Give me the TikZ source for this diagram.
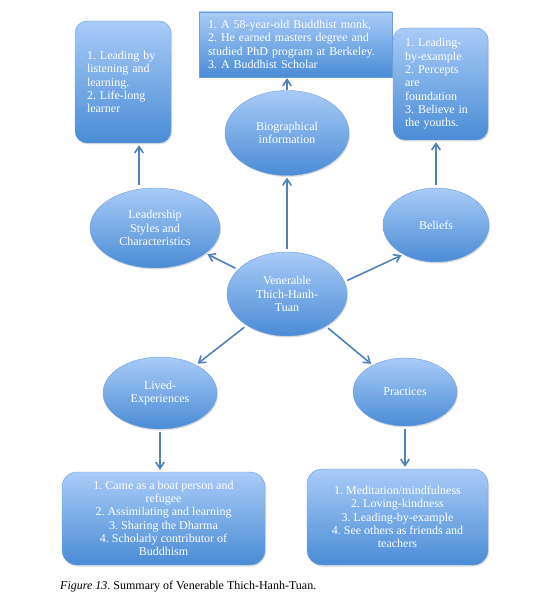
\documentclass[tikz,border=0pt]{standalone}
\usepackage{fontspec}
\setmainfont{Liberation Serif}
\usetikzlibrary{arrows.meta,shapes.geometric,shadows}
\definecolor{MapBlueTop}{HTML}{A9CBF7}
\definecolor{MapBlueBottom}{HTML}{4A8CD6}
\definecolor{MapEdge}{HTML}{6E9FD8}
\definecolor{MapArrow}{HTML}{4F81BD}
\frenchspacing

\begin{document}
\begin{tikzpicture}[
  x=1pt,y=-1pt,
  every node/.style={font=\fontsize{12}{13.3}\selectfont,text=white},
  bubble/.style={ellipse,draw=MapEdge,top color=MapBlueTop,bottom color=MapBlueBottom,
                 align=center,inner sep=0pt,
                 drop shadow={opacity=0.25,shadow xshift=1pt,shadow yshift=-1.5pt}},
  card/.style={rounded corners=12pt,draw=MapEdge,top color=MapBlueTop,bottom color=MapBlueBottom,
               inner sep=0pt,
               drop shadow={opacity=0.25,shadow xshift=1pt,shadow yshift=-1.5pt}},
  arrow/.style={-{Straight Barb[length=2.2mm,width=3mm]},line width=1.6pt,color=MapArrow,
                shorten >=2pt,shorten <=3pt}
]
  \useasboundingbox (0,0) rectangle (550,601);

  % ellipses
  \node[bubble,minimum width=120pt,minimum height=84pt] (hub) at (287,294) {Venerable\\Thich-Hanh-\\Tuan};
  \node[bubble,minimum width=124pt,minimum height=85pt] (bio) at (287,133) {Biographical\\information};
  \node[bubble,minimum width=130pt,minimum height=80pt] (lead) at (155,228) {Leadership\\Styles and\\Characteristics};
  \node[bubble,minimum width=106pt,minimum height=74pt] (belief) at (436,225) {Beliefs};
  \node[bubble,minimum width=114pt,minimum height=72pt] (lived) at (160,393) {Lived-\\Experiences};
  \node[bubble,minimum width=104pt,minimum height=68pt] (pract) at (405,392) {Practices};

  % boxes
  \node[card,minimum width=96pt,minimum height=122pt,text width=72pt,align=left] (leadbox) at (123,82)
    {1. Leading by\\listening and\\learning.\\2. Life-long\\learner};
  \node[card,rounded corners=0pt,minimum width=193pt,minimum height=65pt,text width=175pt,align=left] (biobox) at (295.5,44.5)
    {1. A 58-year-old Buddhist monk,\\2. He earned masters degree and\\studied PhD program at Berkeley.\\3. A Buddhist Scholar};
  \node[card,minimum width=95pt,minimum height=112pt,text width=71pt,align=left] (beliefbox) at (440.5,84)
    {1. Leading-\\by-example\\2. Percepts\\are\\foundation\\3. Believe in\\the youths.};
  \node[card,rounded corners=15pt,minimum width=203pt,minimum height=93pt,align=center] (livedbox) at (163.5,518.5)
    {1. Came as a boat person and\\refugee\\2. Assimilating and learning\\3. Sharing the Dharma\\4. Scholarly contributor of\\Buddhism};
  \node[card,rounded corners=15pt,minimum width=181pt,minimum height=96pt,align=center] (practbox) at (397.5,517)
    {1. Meditation/mindfulness\\2. Loving-kindness\\3. Leading-by-example\\4. See others as friends and\\teachers};

  % connectors
  \draw[arrow] (hub) -- (bio);
  \draw[arrow] (hub) -- (lead);
  \draw[arrow] (hub.12) -- (belief.222);
  \draw[arrow] (hub) -- (lived);
  \draw[arrow] (hub) -- (pract);
  \draw[arrow,shorten <=0pt,shorten >=1pt] (bio) -- (bio |- biobox.south);
  \draw[arrow] ([xshift=-16pt]lead.north) -- ([xshift=-16pt]lead.north |- leadbox.south);
  \draw[arrow] (belief) -- (belief |- beliefbox.south);
  \draw[arrow] (lived) -- (lived |- livedbox.north);
  \draw[arrow] (pract) -- (pract |- practbox.north);

  \node[anchor=west,text=black,inner sep=0pt] (caption) at (60,587)
    {\textit{Figure 13}. Summary of Venerable Thich-Hanh-Tuan.};
\end{tikzpicture}
\end{document}
